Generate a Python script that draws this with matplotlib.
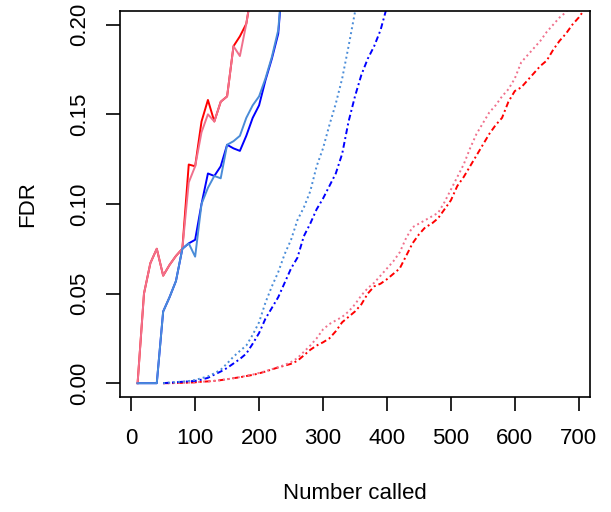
import matplotlib
matplotlib.use("Agg")
import matplotlib.pyplot as plt

plt.rcParams['font.family'] = ['Liberation Sans', 'DejaVu Sans']
plt.rcParams['lines.scale_dashes'] = False

# ---- data ----
x_solid_red = [10, 20, 30, 40, 50, 60, 70, 80, 90, 100, 110, 120, 130, 140, 150, 160, 170, 180, 190]
fdr_red_solid = [0, 0.050, 0.067, 0.075, 0.060, 0.066, 0.071, 0.075, 0.122, 0.121, 0.146, 0.158,
                 0.146, 0.157, 0.160, 0.188, 0.1935, 0.2005, 0.222]
fdr_pink_solid = [0, 0.050, 0.067, 0.075, 0.060, 0.066, 0.071, 0.075, 0.112, 0.121, 0.140, 0.150,
                  0.146, 0.157, 0.160, 0.188, 0.1825, 0.2005, 0.222]

x_solid_blue = [10, 20, 30, 40, 50, 60, 70, 80, 90, 100, 110, 120, 130, 140, 150, 160, 170, 180,
                190, 200, 210, 220, 230, 240]
fdr_blue_solid = [0, 0, 0, 0, 0.040, 0.048, 0.057, 0.075, 0.078, 0.080, 0.100, 0.117, 0.1156,
                  0.121, 0.133, 0.131, 0.1296, 0.138, 0.148, 0.155, 0.169, 0.181, 0.195, 0.240]
fdr_lblue_solid = [0, 0, 0, 0, 0.040, 0.048, 0.057, 0.075, 0.078, 0.0706, 0.100, 0.109, 0.1156,
                   0.1143, 0.133, 0.135, 0.138, 0.148, 0.155, 0.160, 0.170, 0.182, 0.197, 0.240]

x_lblue_dot = [50, 60, 70, 80, 90, 100, 110, 120, 130, 140, 150, 160, 170, 180, 190, 200, 210,
               220, 230, 240, 250, 260, 270, 280, 290, 300, 310, 320, 330, 340, 350, 360]
fdr_lblue_dot = [0, 0.0003, 0.0006, 0.0009, 0.0012, 0.0018, 0.0028, 0.0038, 0.0055, 0.0075,
                 0.011, 0.0148, 0.018, 0.021, 0.027, 0.034, 0.045, 0.054, 0.062, 0.072, 0.080,
                 0.091, 0.098, 0.107, 0.121, 0.131, 0.144, 0.156, 0.170, 0.188, 0.207, 0.227]

x_blue_dash = [50, 60, 70, 80, 90, 100, 110, 120, 130, 140, 150, 160, 170, 180, 190, 200, 210,
               220, 230, 240, 250, 260, 270, 280, 290, 300, 310, 320, 330, 340, 350, 360, 370,
               380, 390, 400]
fdr_blue_dash = [0, 0.0003, 0.0005, 0.0008, 0.001, 0.0013, 0.002, 0.003, 0.0048, 0.0065, 0.0085,
                 0.011, 0.0135, 0.0165, 0.022, 0.028, 0.036, 0.042, 0.048, 0.056, 0.064, 0.070,
                 0.082, 0.089, 0.097, 0.103, 0.110, 0.117, 0.128, 0.146, 0.160, 0.172, 0.181,
                 0.188, 0.197, 0.210]

x_red_dash = list(range(50, 720, 10))
fdr_red_dash = [0, 0, 0.0001, 0.0002, 0.0003, 0.0005, 0.0008, 0.001, 0.0013, 0.0017, 0.0022,
                0.0028, 0.0033, 0.004, 0.0046, 0.0055, 0.0065, 0.0077, 0.0088, 0.0098, 0.0108,
                0.0125, 0.0155, 0.0186, 0.021, 0.0228, 0.025, 0.029, 0.034, 0.037, 0.040, 0.044,
                0.050, 0.054, 0.0555, 0.058, 0.061, 0.064, 0.071, 0.078, 0.083, 0.087, 0.089,
                0.092, 0.097, 0.102, 0.110, 0.115, 0.121, 0.127, 0.133, 0.139, 0.144, 0.148,
                0.157, 0.163, 0.165, 0.169, 0.173, 0.177, 0.180, 0.186, 0.191, 0.195, 0.200,
                0.204, 0.209]

x_pink_dot = list(range(50, 700, 10))
fdr_pink_dot = [0, 0, 0.0001, 0.0002, 0.0003, 0.0005, 0.0008, 0.001, 0.0013, 0.0017, 0.0022,
                0.0028, 0.0034, 0.0041, 0.0048, 0.0057, 0.0067, 0.0078, 0.009, 0.0102, 0.0118,
                0.014, 0.0175, 0.021, 0.025, 0.030, 0.033, 0.035, 0.037, 0.040, 0.044, 0.049,
                0.053, 0.056, 0.060, 0.064, 0.068, 0.073, 0.081, 0.087, 0.089, 0.091, 0.093,
                0.095, 0.101, 0.108, 0.115, 0.122, 0.131, 0.139, 0.145, 0.151, 0.155, 0.160,
                0.164, 0.170, 0.179, 0.183, 0.187, 0.191, 0.196, 0.200, 0.204, 0.207, 0.212]

x_ticks = [0, 100, 200, 300, 400, 500, 600, 700]
y_ticks = [0.00, 0.05, 0.10, 0.15, 0.20]
y_ticklabels = ["0.00", "0.05", "0.10", "0.15", "0.20"]

# ---- styling ----
RED = "#FF0000"
PINK = "#F0708C"
BLUE = "#0000FF"
LBLUE = "#4A8CD8"
LW = 1.4
DOT = (0, (1.4, 2.2))
DASHDOT = (0, (4.2, 2.2, 1.4, 2.2))

fig = plt.figure(figsize=(6.11, 5.12), dpi=100)
ax = fig.add_axes([119.5 / 611, 1 - 397 / 512, (590 - 119.5) / 611, (397 - 10.7) / 512])

ax.plot(x_red_dash, fdr_red_dash, color=RED, lw=LW, ls=DASHDOT)
ax.plot(x_pink_dot, fdr_pink_dot, color=PINK, lw=LW, ls=DOT)
ax.plot(x_blue_dash, fdr_blue_dash, color=BLUE, lw=LW, ls=DASHDOT)
ax.plot(x_lblue_dot, fdr_lblue_dot, color=LBLUE, lw=LW, ls=DOT)
ax.plot(x_solid_red, fdr_red_solid, color=RED, lw=LW)
ax.plot(x_solid_blue, fdr_blue_solid, color=BLUE, lw=LW)
ax.plot(x_solid_red, fdr_pink_solid, color=PINK, lw=LW)
ax.plot(x_solid_blue, fdr_lblue_solid, color=LBLUE, lw=LW)

ax.set_xlim(-18.3, 717.6)
ax.set_ylim(-0.0077, 0.2078)
ax.set_xticks(x_ticks)
ax.set_xticklabels([str(v) for v in x_ticks])
ax.set_yticks(y_ticks)
ax.set_yticklabels(y_ticklabels, rotation=90, va='center')

for s in ax.spines.values():
    s.set_linewidth(1.2)
    s.set_color('black')
ax.tick_params(axis='x', length=10, width=1.2, pad=12.5, labelsize=16, color='black')
ax.tick_params(axis='y', length=10, width=1.2, pad=11, labelsize=16, color='black')

ax.set_xlabel("Number called", fontsize=16)
ax.xaxis.set_label_coords(0.5, -0.251)
ax.xaxis.label.set_va('center')
ax.set_ylabel("FDR", fontsize=16)
ax.yaxis.set_label_coords(-0.1945, 0.5)
ax.yaxis.label.set_va('center')

fig.savefig("out.png", dpi=100)
